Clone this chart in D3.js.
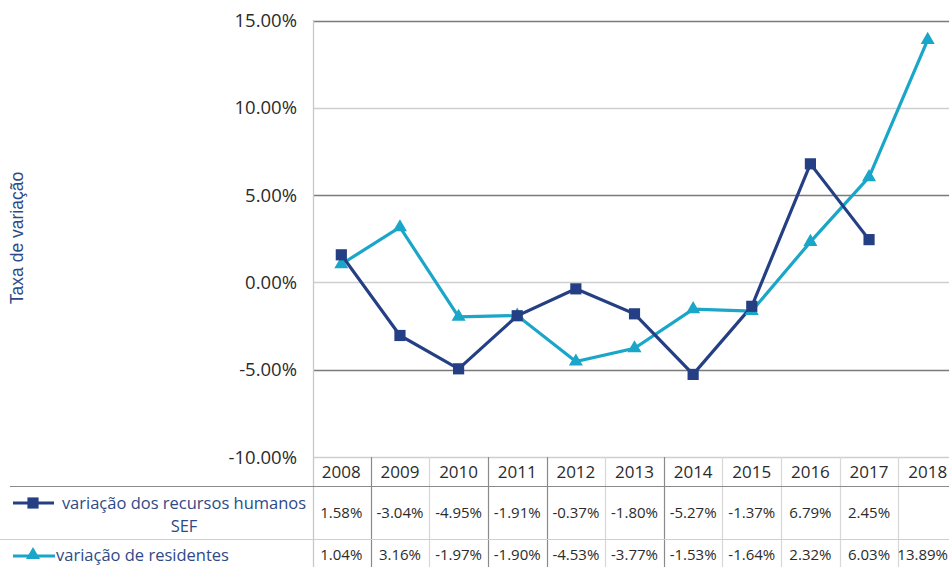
<!DOCTYPE html>
<html>
<head>
<meta charset="utf-8">
<script src="https://cdn.jsdelivr.net/npm/d3@7"></script>
<style>
  body { margin: 0; background: #fff; }
  svg { display: block; font-family: "Open Sans", sans-serif; }
</style>
</head>
<body>
<div class="chart"></div>
<script>
var svgWidth = 949;
var svgHeight = 567;

// data
var years = ["2008", "2009", "2010", "2011", "2012", "2013", "2014", "2015", "2016", "2017", "2018"];
var recursosHumanos = [1.58, -3.04, -4.95, -1.91, -0.37, -1.80, -5.27, -1.37, 6.79, 2.45, null];
var residentes = [1.04, 3.16, -1.97, -1.90, -4.53, -3.77, -1.53, -1.64, 2.32, 6.03, 13.89];
var yTicks = [-10, -5, 0, 5, 10, 15];

var navy = "#253f85";
var teal = "#1aa6c8";

var svg = d3.select(".chart")
  .append("svg")
  .attr("width", svgWidth)
  .attr("height", svgHeight);

var x = d3.scaleBand()
  .domain(years)
  .range([312, 957]);

var y = d3.scaleLinear()
  .domain([-10, 15])
  .range([457, 20.5]);

// percent with a plain hyphen, like the original
function pct(v) { return v.toFixed(2) + "%"; }

// gridlines (alternating shades like the original)
svg.append("g")
  .selectAll("line")
  .data(yTicks)
  .enter()
  .append("line")
  .attr("x1", 313)
  .attr("x2", svgWidth)
  .attr("y1", function(d) { return Math.round(y(d)) + 0.5; })
  .attr("y2", function(d) { return Math.round(y(d)) + 0.5; })
  .attr("stroke", function(d) { return (d === 15 || d === 5 || d === -5) ? "#7a7a7a" : "#cfcfcf"; })
  .attr("stroke-width", 1.3);

// y axis labels
svg.append("g")
  .selectAll("text")
  .data(yTicks)
  .enter()
  .append("text")
  .attr("x", 297)
  .attr("y", function(d) { return y(d) + 6.5; })
  .attr("text-anchor", "end")
  .attr("font-size", 18.5)
  .attr("fill", "#2b2b2b")
  .text(pct);

// y axis title
svg.append("text")
  .attr("transform", "translate(23,238) rotate(-90)")
  .attr("text-anchor", "middle")
  .attr("font-family", "Liberation Sans, Arial, sans-serif")
  .attr("font-size", 17.5)
  .attr("fill", "#2e4a86")
  .text("Taxa de variação");

// table lines
var colBounds = years.map(function(d) { return x(d); }).slice(1);
svg.append("g")
  .selectAll("line")
  .data(colBounds)
  .enter()
  .append("line")
  .attr("x1", function(d) { return Math.round(d) + 0.5; })
  .attr("x2", function(d) { return Math.round(d) + 0.5; })
  .attr("y1", y(-10))
  .attr("y2", svgHeight)
  .attr("stroke", function(d, i) { return [0, 2, 3, 5].indexOf(i) >= 0 ? "#8a8a8a" : "#d8d8d8"; })
  .attr("stroke-width", 1.2);

// plot-left / table line
svg.append("line")
  .attr("x1", 313.5).attr("x2", 313.5)
  .attr("y1", 20).attr("y2", svgHeight)
  .attr("stroke", "#c8c8c8")
  .attr("stroke-width", 1.3);

svg.append("line")
  .attr("x1", 10).attr("x2", svgWidth)
  .attr("y1", 486.5).attr("y2", 486.5)
  .attr("stroke", "#8a8a8a").attr("stroke-width", 1.2);
svg.append("line")
  .attr("x1", 0).attr("x2", svgWidth)
  .attr("y1", 539.5).attr("y2", 539.5)
  .attr("stroke", "#cfcfcf").attr("stroke-width", 1.2);

// header row
svg.append("g")
  .selectAll("text")
  .data(years)
  .enter()
  .append("text")
  .attr("x", function(d) { return x(d) + x.bandwidth() / 2; })
  .attr("y", 478)
  .attr("text-anchor", "middle")
  .attr("font-size", 17)
  .attr("fill", "#2b2b2b")
  .text(function(d) { return d; });

function fmt(v) { return v === null ? "" : pct(v); }

// keep a cell inside the picture if it runs past the right edge
function fitCell(sel) {
  sel.each(function() {
    var w = this.getComputedTextLength();
    var cx = +this.getAttribute("x");
    if (cx + w / 2 > svgWidth - 1) this.setAttribute("x", svgWidth - 1 - w / 2);
  });
}

svg.append("g")
  .selectAll("text")
  .data(recursosHumanos)
  .enter()
  .append("text")
  .attr("x", function(d, i) { return x(years[i]) + x.bandwidth() / 2; })
  .attr("y", 518)
  .attr("text-anchor", "middle")
  .attr("font-size", 15)
  .attr("fill", "#2b2b2b")
  .text(fmt)
  .call(fitCell);

svg.append("g")
  .selectAll("text")
  .data(residentes)
  .enter()
  .append("text")
  .attr("x", function(d, i) { return x(years[i]) + x.bandwidth() / 2; })
  .attr("y", 560)
  .attr("text-anchor", "middle")
  .attr("font-size", 15)
  .attr("fill", "#2b2b2b")
  .text(fmt)
  .call(fitCell);

// lines
var line = d3.line()
  .defined(function(d) { return d !== null; })
  .x(function(d, i) { return x(years[i]) + x.bandwidth() / 2; })
  .y(function(d) { return y(d); });

svg.append("path")
  .datum(residentes)
  .attr("d", line)
  .attr("fill", "none")
  .attr("stroke", teal)
  .attr("stroke-width", 3.2);

svg.append("path")
  .datum(recursosHumanos)
  .attr("d", line)
  .attr("fill", "none")
  .attr("stroke", navy)
  .attr("stroke-width", 3.2);

var tri = d3.symbol().type(d3.symbolTriangle).size(85);
var sq = d3.symbol().type(d3.symbolSquare).size(125);

svg.append("g")
  .selectAll("path")
  .data(residentes)
  .enter()
  .filter(function(d) { return d !== null; })
  .append("path")
  .attr("d", tri)
  .attr("transform", function(d, i) { return "translate(" + (x(years[i]) + x.bandwidth() / 2) + "," + y(d) + ")"; })
  .attr("fill", teal);

svg.append("g")
  .selectAll("path")
  .data(recursosHumanos)
  .enter()
  .filter(function(d) { return d !== null; })
  .append("path")
  .attr("d", sq)
  .attr("transform", function(d, i) { return "translate(" + (x(years[i]) + x.bandwidth() / 2) + "," + y(d) + ")"; })
  .attr("fill", navy);

// legend keys in table
var leg1 = svg.append("g");
leg1.append("line")
  .attr("x1", 13).attr("x2", 54).attr("y1", 503).attr("y2", 503)
  .attr("stroke", navy).attr("stroke-width", 3.2);
leg1.append("path")
  .attr("d", sq)
  .attr("transform", "translate(33,503)")
  .attr("fill", navy);
leg1.append("text")
  .attr("x", 184).attr("y", 509)
  .attr("text-anchor", "middle")
  .attr("font-size", 16.5)
  .attr("fill", "#2e4a86")
  .text("variação dos recursos humanos");
leg1.append("text")
  .attr("x", 184).attr("y", 532)
  .attr("text-anchor", "middle")
  .attr("font-size", 16.5)
  .attr("fill", "#2e4a86")
  .text("SEF");

var leg2 = svg.append("g");
leg2.append("line")
  .attr("x1", 13).attr("x2", 55).attr("y1", 556).attr("y2", 556)
  .attr("stroke", teal).attr("stroke-width", 3.2);
leg2.append("path")
  .attr("d", tri)
  .attr("transform", "translate(33,555)")
  .attr("fill", teal);
leg2.append("text")
  .attr("x", 56).attr("y", 561)
  .attr("font-size", 16.5)
  .attr("fill", "#2e4a86")
  .text("variação de residentes");
</script>
</body>
</html>
